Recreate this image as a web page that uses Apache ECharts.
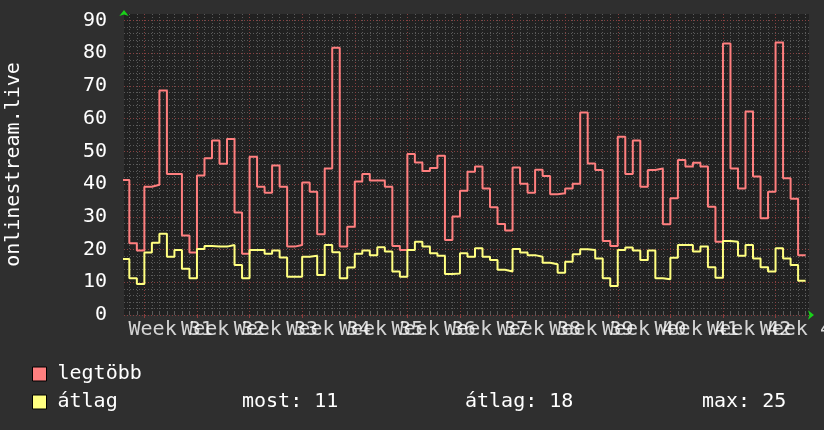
<!DOCTYPE html>
<html><head><meta charset="utf-8">
<script src="https://cdn.jsdelivr.net/npm/echarts@6/dist/echarts.min.js"></script>
<style>html,body{margin:0;padding:0;background:#2f2f2f;}#c{width:824px;height:430px;}</style>
</head><body><div id="c"></div>
<script>
// ---- data (one value per day) ----
const legtobb = [41.3,21.9,19.7,39.2,39.8,68.6,43.1,43.1,24.3,19.1,
  42.6,47.9,53.3,46.2,53.8,31.3,18.7,48.4,39.2,37.4,
  45.7,39.2,20.9,21.4,40.5,37.7,24.7,44.8,81.7,20.9,
  27.0,40.8,43.1,41.1,41.1,39.2,21.1,19.9,49.2,46.6,
  44.0,44.9,48.7,22.9,30.1,38.0,43.8,45.4,38.7,32.9,
  27.8,25.8,45.1,40.1,37.4,44.4,42.5,36.9,37.2,38.7,
  40.1,61.9,46.3,44.3,22.6,21.1,54.5,43.1,53.3,39.2,
  44.3,44.8,27.7,35.7,47.4,45.4,46.5,45.4,33.1,22.4,
  83.0,44.8,38.7,62.2,42.3,29.6,37.7,83.3,41.8,35.5,18.3];
const atlag = [17.1,11.2,9.5,19.1,22.1,24.8,17.8,19.9,14.1,11.2,
  20.2,21.1,20.9,20.9,21.4,15.3,11.2,19.9,19.9,18.7,
  19.7,17.6,11.7,11.7,17.8,18.1,12.2,21.4,19.2,11.2,
  14.5,18.7,19.7,18.3,20.7,19.4,13.3,11.7,19.9,22.4,
  20.9,18.9,18.1,12.5,12.7,18.9,17.8,20.4,17.8,16.8,
  13.8,13.3,20.2,19.1,18.3,17.8,16.0,15.5,12.9,16.3,
  18.6,20.1,19.9,17.3,11.2,8.9,19.9,20.6,19.7,16.8,
  19.7,11.2,10.9,17.5,21.4,21.4,19.4,20.9,14.6,11.4,
  22.6,22.4,18.1,21.4,17.3,14.6,13.3,20.4,17.3,15.3,10.5];
const seriesNames = ['legtöbb', 'átlag'];
const weekLabels = ['Week 31','Week 32','Week 33','Week 34','Week 35','Week 36','Week 37',
  'Week 38','Week 39','Week 40','Week 41','Week 42','Week 43'];
const firstWeekDay = 3;           // day index where "Week 31" begins
const yTicks = [0,10,20,30,40,50,60,70,80,90];
const yTitle = 'onlinestream.live';
const statLabels = ['most:', 'átlag:', 'max:'];
const statValues = [11, 18, 25];

// ---- layout / style ----
const FONT = 'DejaVu Sans Mono';
const viewStart = 0.29, viewEnd = 91.45, yMax = 92;
const C_RED = '#ff7f7f', C_YEL = '#ffff80';
const weekTicks = weekLabels.map((_, i) => firstWeekDay + 7 * i);
const labelPos = weekLabels.map((_, i) => firstWeekDay + 7 * i + 3.5);
const dayTicks = [];
for (let d = 1; d <= Math.floor(viewEnd); d++) if ((d - firstWeekDay) % 7 !== 0) dayTicks.push(d);
const yMinor = [];
for (let v = 2; v < yMax; v += 2) if (v % 10 !== 0) yMinor.push(v);

function stepPoints(arr) {
  const pts = arr.map((v, i) => [i, v]);
  pts.push([arr.length, arr[arr.length - 1]]);
  return pts;
}

const chart = echarts.init(document.getElementById('c'), null, {renderer: 'canvas'});
const xBase = {type: 'value', min: viewStart, max: viewEnd, gridIndex: 0};
const yBase = {type: 'value', min: 0, max: yMax, gridIndex: 0};
chart.setOption({
  backgroundColor: '#2f2f2f',
  animation: false,
  textStyle: {fontFamily: FONT},
  grid: {left: 124, right: 15, top: 14, bottom: 115, show: true, containLabel: false,
         outerBoundsMode: 'none',
         backgroundColor: '#212121', borderWidth: 0},
  xAxis: [
    Object.assign({}, xBase, {
      position: 'bottom',
      axisLine: {show: true, onZero: false, symbol: ['none', 'arrow'], symbolSize: [7, 6],
                 symbolOffset: [0, 5], lineStyle: {color: '#19d119', width: 0}},
      axisTick: {show: true, customValues: weekTicks, length: 3, lineStyle: {color: '#8c3c3c'}},
      axisLabel: {show: false},
      splitLine: {show: true, lineStyle: {color: '#874040', width: 1, type: [1, 2]}},
      z: 2
    }),
    Object.assign({}, xBase, {
      position: 'top',
      axisLine: {show: false},
      axisTick: {show: true, customValues: dayTicks, length: 3, lineStyle: {color: '#5a5a5a'}},
      axisLabel: {show: false},
      splitLine: {show: true, lineStyle: {color: '#5a5a5a', width: 1, type: [1, 2]}},
      z: 1
    })
  ],
  yAxis: [
    Object.assign({}, yBase, {
      position: 'left',
      name: yTitle, nameLocation: 'middle', nameRotate: 90, nameGap: 100,
      nameTextStyle: {color: '#ffffff', fontFamily: FONT, fontSize: 20},
      axisLine: {show: true, symbol: ['none', 'arrow'], symbolSize: [7, 6],
                 symbolOffset: [0, 4], lineStyle: {color: '#19d119', width: 0}},
      axisTick: {show: false, customValues: yTicks},
      axisLabel: {show: true, customValues: yTicks, color: '#ffffff', fontFamily: FONT,
                  fontSize: 20, margin: 17},
      splitLine: {show: true, lineStyle: {color: '#874040', width: 1, type: [1, 2]}},
      z: 2
    }),
    Object.assign({}, yBase, {
      position: 'left',
      axisLine: {show: false},
      axisTick: {show: false, customValues: yMinor},
      axisLabel: {show: false},
      splitLine: {show: true, lineStyle: {color: '#5a5a5a', width: 1, type: [1, 2]}},
      z: 1
    })
  ],
  legend: {
    orient: 'vertical', left: 27, top: 359, itemWidth: 14, itemHeight: 14, itemGap: 8,
    icon: 'rect', selectedMode: false,
    itemStyle: {borderColor: '#000000', borderWidth: 1},
    textStyle: {color: '#ffffff', fontFamily: FONT, fontSize: 20, padding: [0, 0, 0, 6]},
    data: seriesNames
  },
  graphic: statLabels.map((lab, i) => ({
    type: 'text', left: [242, 465, 702][i], top: 392,
    style: {text: lab + ' ' + statValues[i], fill: '#ffffff', font: '20px "' + FONT + '"'}
  })),
  series: [
    {name: seriesNames[0], type: 'line', step: 'end', xAxisIndex: 0, yAxisIndex: 0,
     data: stepPoints(legtobb), showSymbol: false, color: C_RED,
     lineStyle: {color: C_RED, width: 2}, z: 3},
    {name: seriesNames[1], type: 'line', step: 'end', xAxisIndex: 0, yAxisIndex: 0,
     data: stepPoints(atlag), showSymbol: false, color: C_YEL,
     lineStyle: {color: C_YEL, width: 2}, z: 4},
    {name: 'weeks', type: 'scatter', xAxisIndex: 0, yAxisIndex: 0, silent: true,
     data: labelPos.map(p => [p, 0]), symbolSize: 0, clip: false,
     label: {show: true, position: 'bottom', distance: 5, color: '#ffffff',
             fontFamily: FONT, fontSize: 20,
             formatter: p => weekLabels[p.dataIndex]},
     labelLayout: {hideOverlap: false}, z: 5}
  ]
});
</script></body></html>
